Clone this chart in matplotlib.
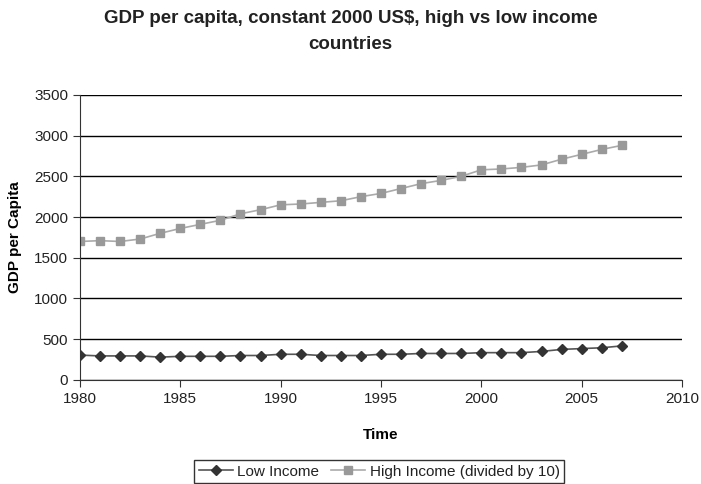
import matplotlib
matplotlib.use("Agg")
import matplotlib.pyplot as plt

years = list(range(1980, 2008))
low_income = [305, 295, 295, 295, 280, 290, 290, 290, 300, 300,
              315, 315, 300, 300, 300, 315, 315, 325, 325, 325,
              335, 335, 335, 350, 375, 385, 395, 418]
high_income = [1700, 1710, 1700, 1730, 1800, 1860, 1910, 1960, 2040, 2090,
               2150, 2160, 2180, 2200, 2250, 2290, 2350, 2410, 2450, 2500,
               2580, 2590, 2610, 2640, 2710, 2770, 2830, 2880]

plt.rcParams["font.family"] = ["Liberation Sans", "DejaVu Sans"]

fig = plt.figure(figsize=(7.01, 4.84), dpi=100)
ax = fig.add_axes([0.114, 0.215, 0.859, 0.589])

ax.plot(years, low_income, color="#555555", linewidth=1.2, marker="D",
        markersize=5.5, markerfacecolor="#333333", markeredgecolor="#333333",
        label="Low Income")
ax.plot(years, high_income, color="#aaaaaa", linewidth=1.2, marker="s",
        markersize=6, markerfacecolor="#999999", markeredgecolor="#999999",
        label="High Income (divided by 10)")

ax.set_xlim(1980, 2010)
ax.set_ylim(0, 3500)
ax.set_xticks(range(1980, 2011, 5))
ax.set_yticks(range(0, 3501, 500))
ax.yaxis.grid(True, color="black", linewidth=1)
ax.set_axisbelow(True)
for s in ["top", "right"]:
    ax.spines[s].set_visible(False)
ax.spines["left"].set_color("#333333")
ax.spines["bottom"].set_color("#333333")
ax.tick_params(labelsize=11, direction="out", length=5, color="#333333",
               labelcolor="#222222")

ax.set_xlabel("Time", fontsize=11, fontweight="bold", labelpad=16)
ax.set_ylabel("GDP per Capita", fontsize=11, fontweight="bold", labelpad=9)

fig.text(0.5, 0.935, "GDP per capita, constant 2000 US$, high vs low income\ncountries",
         ha="center", va="center", fontsize=13.5, fontweight="bold",
         linespacing=1.7, color="#222222")

leg = fig.legend(loc="lower center", bbox_to_anchor=(0.541, -0.014), ncol=2,
                 fontsize=11, frameon=True, fancybox=False, edgecolor="black",
                 handlelength=2.2, handletextpad=0.3, columnspacing=0.8,
                 borderpad=0.3)
leg.get_frame().set_linewidth(1)
for t in leg.get_texts():
    t.set_color("#222222")

fig.savefig("out.png", dpi=100)
